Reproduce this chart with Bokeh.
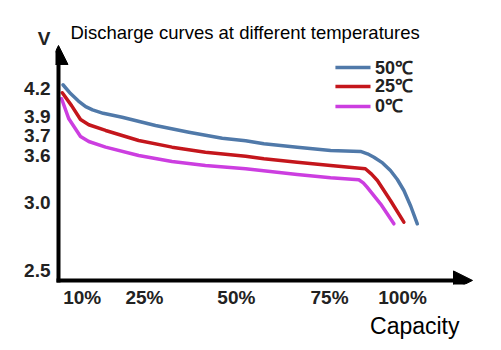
from bokeh.plotting import figure
from bokeh.models import Range1d, FixedTicker, Arrow, NormalHead, Label, Title
from bokeh.core.properties import value
from bokeh.embed import file_html
from bokeh.resources import INLINE

# ---- data (capacity position, voltage) ----
cap_50 = [1.3, 3.5, 5.8, 7.9, 9.9, 13.0, 18.5, 28.2, 37.9, 47.6, 54.4, 59.7, 69.4, 79.1, 87.8, 89.8, 91.7, 94.2, 96.5, 98.5, 100.4, 102.4, 104.3]
v_50 = [4.235, 4.153, 4.083, 4.030, 4.000, 3.968, 3.932, 3.854, 3.792, 3.736, 3.711, 3.683, 3.652, 3.621, 3.612, 3.590, 3.558, 3.505, 3.434, 3.350, 3.247, 3.100, 2.936]

cap_25 = [1.1, 3.8, 6.4, 8.8, 13.7, 23.3, 33.0, 42.7, 54.4, 59.7, 69.4, 79.1, 89.2, 91.0, 92.7, 96.5, 100.4]
v_25 = [4.160, 4.040, 3.910, 3.861, 3.808, 3.714, 3.652, 3.605, 3.568, 3.543, 3.512, 3.481, 3.450, 3.400, 3.341, 3.154, 2.951]

cap_0 = [0.9, 3.0, 6.4, 8.8, 13.7, 23.3, 33.0, 42.7, 54.4, 69.4, 79.1, 87.3, 88.6, 89.7, 93.6, 97.5]
v_0 = [4.104, 3.917, 3.752, 3.705, 3.652, 3.574, 3.518, 3.481, 3.450, 3.397, 3.366, 3.347, 3.318, 3.278, 3.123, 2.936]

series_labels = ["50℃", "25℃", "0℃"]
series_colors = ["#5079a9", "#c4161c", "#cc3ee0"]

x_tick_pos = [6.9, 25.0, 51.7, 78.8, 100.0]
x_tick_labels = ["10%", "25%", "50%", "75%", "100%"]
y_tick_pos = [4.2, 3.938, 3.761, 3.574, 3.135, 2.5]
y_tick_labels = ["4.2", "3.9", "3.7", "3.6", "3.0", "2.5"]

title_text = "Discharge curves at different temperatures"
y_title = "V"
y_title_pos = 4.667
x_title = "Capacity"

# legend layout (in plot units, top-right corner of the chart)
legend_x0, legend_x1, legend_text_x = 80.5, 90.7, 92.0
legend_rows = [4.396, 4.219, 4.032]

# ---- figure ----
p = figure(width=501, height=350, output_backend="svg", toolbar_location=None,
           x_range=Range1d(-0.872, 125.58), y_range=Range1d(2.369, 5.022),
           min_border_left=55, min_border_right=11, min_border_top=0,
           min_border_bottom=66)
p.outline_line_color = None
p.grid.visible = False
p.background_fill_color = "white"
p.border_fill_color = "white"

FONT = "Liberation Sans"
for ax in (p.xaxis[0], p.yaxis[0]):
    ax.axis_line_color = None
    ax.major_tick_line_color = None
    ax.minor_tick_line_color = None
    ax.major_tick_out = 0
    ax.major_tick_in = 0
    ax.major_label_text_font = FONT
    ax.major_label_text_font_style = "bold"
    ax.major_label_text_font_size = "19px"
    ax.major_label_text_color = "#222222"

p.xaxis.ticker = FixedTicker(ticks=x_tick_pos)
p.xaxis.major_label_overrides = dict(zip(x_tick_pos, x_tick_labels))
p.xaxis.major_label_standoff = 2
# the "V" axis title sits at the top of the y axis, just above its arrow
p.yaxis.ticker = FixedTicker(ticks=y_tick_pos + [y_title_pos])
p.yaxis.major_label_overrides = dict(zip(y_tick_pos + [y_title_pos], y_tick_labels + [y_title]))
p.yaxis.major_label_standoff = 5

# axes with arrow heads
x0, y0 = 0.0, 2.407
p.add_layout(Arrow(end=NormalHead(size=19, fill_color="black", line_color="black", line_width=1),
                   x_start=x0, y_start=2.388, x_end=x0, y_end=4.602,
                   line_color="black", line_width=4))
p.add_layout(Arrow(end=NormalHead(size=19, fill_color="black", line_color="black", line_width=1),
                   x_start=-0.58, y_start=y0, x_end=120.35, y_end=y0,
                   line_color="black", line_width=4))

# curves
for xs, ys, col in zip([cap_50, cap_25, cap_0], [v_50, v_25, v_0], series_colors):
    p.line(xs, ys, line_color=col, line_width=3.5, line_join="round", line_cap="round")

# legend
n = len(series_labels)
p.segment(x0=[legend_x0] * n, y0=legend_rows, x1=[legend_x1] * n, y1=legend_rows,
          line_color=series_colors, line_width=3.5)
p.text(x=[legend_text_x] * n, y=legend_rows, text=series_labels,
       text_font=value(FONT), text_font_style="bold", text_font_size="18px",
       text_color="#222222", text_align="left", text_baseline="middle")

# texts
p.add_layout(Label(x=3.49, y=4.723, text=title_text, text_font=FONT,
                   text_font_size="18.5px", text_color="black",
                   text_align="left", text_baseline="alphabetic"))
p.add_layout(Title(text=x_title, align="right", offset=31, text_font=FONT,
                   text_font_size="23px", text_font_style="normal", text_color="black",
                   standoff=0), "below")

open("out.html", "w").write(file_html(p, INLINE))
